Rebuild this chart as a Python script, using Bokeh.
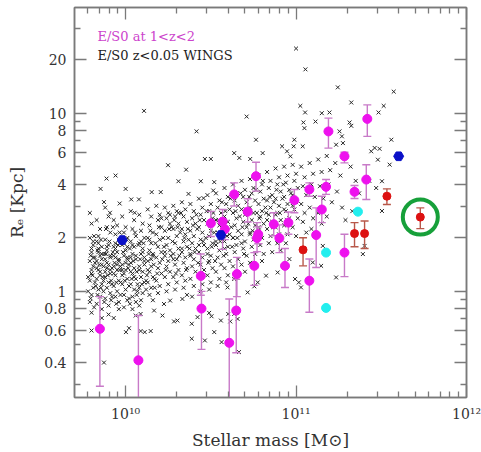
from bokeh.plotting import figure
from bokeh.models import Range1d, LogAxis, FixedTicker, Label
from bokeh.embed import file_html
from bokeh.resources import INLINE

# ---------------- data (log10 stellar mass, Re in kpc) ----------------
# high-z E/S0 (magenta) with error bars
hz_logM = [9.849, 10.075, 10.441, 10.445, 10.50, 10.569, 10.582, 10.637, 10.716, 10.608,
           10.649, 10.653, 10.765, 10.771, 10.778, 10.755, 10.869, 10.902, 10.935, 10.955,
           10.99, 11.078, 11.078, 11.118, 11.151, 11.176, 11.19, 11.284, 11.284, 11.343,
           11.412, 11.418]
hz_re = [0.616, 0.41, 1.22, 0.80, 2.41, 2.46, 2.23, 3.50, 2.80, 0.514,
         0.78, 1.25, 4.43, 1.99, 2.09, 1.39, 2.38, 1.99, 1.39, 2.43,
         3.25, 1.147, 3.73, 2.07, 2.88, 3.86, 7.90, 5.73, 1.65, 3.62,
         4.24, 9.29]
hz_hi = [0.934, 0.731, 1.62, 1.0, 2.81, 2.88, 2.50, 4.06, 3.31, 0.906,
         1.17, 1.55, 5.30, 2.43, 2.30, 1.65, 2.76, 2.36, 1.74, 2.79,
         3.73, 1.52, 4.06, 2.94, 3.42, 4.24, 9.38, 6.03, 2.09, 3.93,
         5.14, 11.13]
hz_lo = [0.293, 0.2, 0.95, 0.472, 2.03, 1.72, 1.95, 3.01, 2.45, 0.2,
         0.452, 0.934, 3.65, 1.67, 1.85, 1.08, 2.05, 1.65, 1.05, 2.09,
         2.76, 0.763, 3.42, 1.36, 2.43, 3.50, 6.37, 5.26, 1.21, 3.32,
         3.28, 7.41]

# red points with error bars
red_logM = [11.041, 11.343, 11.402, 11.533, 11.729]
red_re = [1.71, 2.11, 2.11, 3.42, 2.61]
red_hi = [2.00, 2.43, 2.48, 3.76, 2.94]
red_lo = [1.39, 1.78, 1.74, 3.07, 2.25]
highlight_index = 4  # the circled point

# cyan points
cy_logM = [11.363, 11.176, 11.176]
cy_re = [2.80, 1.65, 0.807]

# blue pentagons
bl_logM = [9.98, 10.559, 11.602]
bl_re = [1.94, 2.07, 5.73]

# local WINGS E/S0 (crosses): (log10 M, log10 Re)
wings_points = [
    (9.79, 0.44), (9.80, 0.38), (9.79, 0.30), (9.81, 0.26), (9.80, 0.22), (9.79, 0.17), (9.81, 0.14),
    (9.80, 0.10), (9.79, 0.06), (9.81, 0.02), (9.80, -0.02), (9.79, -0.06), (9.81, 0.19), (9.80, 0.12),
    (9.80, -0.12), (9.80, -0.22), (9.78, 0.08), (9.82, 0.16), (9.80, 0.24), (9.78, 0.00), (9.82, 0.05),
    (9.81, 0.28),
    (9.83, 0.40), (9.85, 0.35), (9.84, 0.31), (9.83, 0.28), (9.86, 0.25), (9.84, 0.22), (9.85, 0.20),
    (9.83, 0.17), (9.86, 0.15), (9.84, 0.12), (9.85, 0.09), (9.83, 0.07), (9.86, 0.04), (9.84, 0.01),
    (9.85, -0.03), (9.83, -0.07), (9.86, 0.18), (9.85, 0.11), (9.84, 0.24), (9.86, -0.10), (9.853, 0.575),
    (9.86, -0.15), (9.87, 0.06), (9.83, 0.13), (9.86, 0.21), (9.84, 0.27), (9.87, 0.00), (9.82, 0.19),
    (9.88, 0.47), (9.90, 0.42), (9.89, 0.36), (9.91, 0.33), (9.88, 0.29), (9.90, 0.26), (9.89, 0.23),
    (9.91, 0.20), (9.88, 0.18), (9.90, 0.15), (9.89, 0.13), (9.91, 0.10), (9.88, 0.08), (9.90, 0.05),
    (9.89, 0.02), (9.91, -0.01), (9.88, -0.04), (9.90, -0.08), (9.89, 0.16), (9.91, 0.12), (9.90, -0.13),
    (9.888, 0.633), (9.873, 0.501), (9.873, -0.40), (9.908, 0.441), (9.92, 0.04), (9.88, 0.11),
    (9.91, 0.19), (9.89, 0.25), (9.92, -0.03), (9.87, 0.14),
    (9.93, 0.40), (9.95, 0.37), (9.94, 0.32), (9.96, 0.29), (9.93, 0.25), (9.95, 0.22), (9.94, 0.19),
    (9.96, 0.17), (9.93, 0.14), (9.95, 0.12), (9.94, 0.09), (9.96, 0.06), (9.93, 0.03), (9.95, 0.00),
    (9.94, -0.03), (9.96, -0.06), (9.93, 0.20), (9.95, 0.15), (9.94, 0.27), (9.96, -0.10), (9.93, -0.15),
    (9.941, 0.65), (9.965, 0.493), (9.97, 0.05), (9.93, 0.10), (9.96, 0.18), (9.94, 0.24), (9.97, -0.02),
    (9.92, 0.13),
    (9.98, 0.42), (10.00, 0.36), (9.99, 0.33), (10.01, 0.30), (9.98, 0.26), (10.00, 0.23), (9.99, 0.20),
    (10.01, 0.18), (9.98, 0.15), (10.00, 0.12), (9.99, 0.10), (10.01, 0.07), (9.98, 0.04), (10.00, 0.01),
    (9.99, -0.02), (10.01, -0.05), (9.98, 0.09), (10.00, 0.16), (9.99, -0.09), (10.01, 0.25),
    (10.00, 0.575), (10.002, -0.229), (10.02, -0.207), (10.02, 0.03), (9.98, 0.12), (10.01, 0.19),
    (9.99, 0.27), (10.02, -0.04), (9.97, 0.14),
    (10.03, 0.45), (10.05, 0.40), (10.04, 0.35), (10.06, 0.31), (10.03, 0.28), (10.05, 0.25), (10.04, 0.21),
    (10.06, 0.18), (10.03, 0.16), (10.05, 0.13), (10.04, 0.10), (10.06, 0.07), (10.03, 0.04), (10.05, 0.01),
    (10.04, -0.03), (10.06, -0.06), (10.03, 0.19), (10.05, 0.08), (10.04, -0.10), (10.033, 0.516),
    (10.053, 0.441), (10.078, 0.516), (10.059, -0.136), (10.07, 0.04), (10.03, 0.11), (10.06, 0.20),
    (10.04, 0.26), (10.07, 0.00), (10.02, 0.15),
    (10.08, 0.43), (10.10, 0.38), (10.09, 0.34), (10.11, 0.30), (10.08, 0.27), (10.10, 0.24), (10.09, 0.21),
    (10.11, 0.17), (10.08, 0.14), (10.10, 0.11), (10.09, 0.08), (10.11, 0.05), (10.08, 0.02), (10.10, -0.01),
    (10.09, -0.05), (10.11, 0.15), (10.10, 0.22), (10.08, -0.08), (10.108, 1.013), (10.088, -0.127),
    (10.088, -0.223), (10.112, -0.229), (10.12, 0.06), (10.08, 0.12), (10.11, 0.19), (10.09, 0.28),
    (10.12, 0.01),
    (10.13, 0.46), (10.15, 0.42), (10.14, 0.37), (10.16, 0.33), (10.13, 0.30), (10.15, 0.27), (10.14, 0.23),
    (10.16, 0.20), (10.13, 0.17), (10.15, 0.14), (10.14, 0.11), (10.16, 0.08), (10.13, 0.05), (10.15, 0.02),
    (10.14, -0.02), (10.16, -0.05), (10.15, 0.18), (10.153, 0.557), (10.147, -0.223), (10.167, -0.108),
    (10.17, 0.07), (10.13, 0.12), (10.16, 0.21), (10.14, 0.29), (10.17, 0.02),
    (10.18, 0.48), (10.20, 0.43), (10.19, 0.40), (10.21, 0.36), (10.18, 0.32), (10.20, 0.29), (10.19, 0.25),
    (10.21, 0.22), (10.18, 0.19), (10.20, 0.16), (10.19, 0.13), (10.21, 0.10), (10.18, 0.06), (10.20, 0.03),
    (10.19, -0.01), (10.21, 0.41), (10.206, 0.557), (10.216, -0.136), (10.225, -0.071),
    (10.23, 0.47), (10.25, 0.44), (10.24, 0.41), (10.26, 0.38), (10.23, 0.34), (10.25, 0.30), (10.24, 0.26),
    (10.26, 0.23), (10.23, 0.20), (10.25, 0.17), (10.24, 0.14), (10.26, 0.11), (10.23, 0.08), (10.25, 0.04),
    (10.24, 0.00), (10.26, 0.43), (10.249, 0.708), (10.261, -0.052), (10.22, 0.30), (10.23, 0.22),
    (10.28, 0.48), (10.30, 0.45), (10.29, 0.42), (10.31, 0.38), (10.28, 0.35), (10.30, 0.31), (10.29, 0.27),
    (10.31, 0.24), (10.28, 0.21), (10.30, 0.18), (10.29, 0.15), (10.31, 0.12), (10.28, 0.08), (10.30, 0.05),
    (10.29, 0.01), (10.31, 0.44), (10.31, 0.618), (10.284, -0.169), (10.304, -0.164), (10.27, 0.36),
    (10.28, 0.18),
    (10.33, 0.50), (10.35, 0.46), (10.34, 0.42), (10.36, 0.39), (10.33, 0.35), (10.35, 0.32), (10.34, 0.28),
    (10.36, 0.25), (10.33, 0.22), (10.35, 0.19), (10.34, 0.16), (10.36, 0.13), (10.33, 0.09), (10.35, 0.06),
    (10.34, 0.02), (10.36, -0.02), (10.355, 0.683), (10.369, 0.547), (10.333, -0.043), (10.32, 0.33),
    (10.33, 0.24),
    (10.38, 0.49), (10.40, 0.45), (10.39, 0.41), (10.41, 0.38), (10.38, 0.34), (10.40, 0.31), (10.39, 0.27),
    (10.41, 0.24), (10.38, 0.21), (10.40, 0.18), (10.39, 0.14), (10.41, 0.11), (10.38, 0.07), (10.40, 0.03),
    (10.39, -0.03), (10.416, 0.898), (10.388, -0.182), (10.388, -0.266), (10.422, -0.145), (10.37, 0.29),
    (10.38, 0.20),
    (10.43, 0.52), (10.45, 0.47), (10.44, 0.43), (10.46, 0.40), (10.43, 0.36), (10.45, 0.33), (10.44, 0.29),
    (10.46, 0.26), (10.43, 0.22), (10.45, 0.19), (10.44, 0.15), (10.46, 0.12), (10.43, 0.08), (10.45, 0.04),
    (10.44, 0.00), (10.441, 0.618), (10.465, 0.743), (10.457, 0.523), (10.465, -0.276), (10.42, 0.35),
    (10.43, 0.26),
    (10.48, 0.54), (10.50, 0.49), (10.49, 0.45), (10.51, 0.41), (10.48, 0.38), (10.50, 0.34), (10.49, 0.31),
    (10.51, 0.27), (10.48, 0.24), (10.50, 0.20), (10.49, 0.17), (10.51, 0.13), (10.48, 0.09), (10.50, 0.05),
    (10.49, 0.01), (10.50, 0.743), (10.514, 0.566), (10.52, 0.613), (10.49, -0.121), (10.504, -0.14),
    (10.52, -0.229), (10.47, 0.30), (10.48, 0.21),
    (10.53, 0.55), (10.55, 0.51), (10.54, 0.47), (10.56, 0.44), (10.53, 0.40), (10.55, 0.37), (10.54, 0.33),
    (10.56, 0.30), (10.53, 0.26), (10.55, 0.23), (10.54, 0.19), (10.56, 0.15), (10.53, 0.11), (10.55, 0.07),
    (10.54, 0.03), (10.559, -0.164), (10.563, -0.285), (10.52, 0.33), (10.53, 0.28),
    (10.58, 0.58), (10.60, 0.53), (10.59, 0.49), (10.61, 0.46), (10.58, 0.42), (10.60, 0.39), (10.59, 0.35),
    (10.61, 0.32), (10.58, 0.28), (10.60, 0.25), (10.59, 0.21), (10.61, 0.17), (10.58, 0.13), (10.60, 0.09),
    (10.59, 0.05), (10.598, 0.022), (10.602, -0.127), (10.614, -0.169), (10.57, 0.40), (10.58, 0.24),
    (10.63, 0.60), (10.65, 0.55), (10.64, 0.51), (10.66, 0.48), (10.63, 0.44), (10.65, 0.41), (10.64, 0.37),
    (10.66, 0.34), (10.63, 0.30), (10.65, 0.26), (10.64, 0.22), (10.66, 0.18), (10.63, 0.14), (10.65, 0.10),
    (10.637, 0.776), (10.667, 0.749), (10.637, 0.069), (10.637, -0.127), (10.657, -0.155), (10.665, -0.341),
    (10.62, 0.36), (10.63, 0.30),
    (10.68, 0.62), (10.70, 0.57), (10.69, 0.53), (10.71, 0.50), (10.68, 0.46), (10.70, 0.43), (10.69, 0.39),
    (10.71, 0.36), (10.68, 0.32), (10.70, 0.28), (10.69, 0.24), (10.71, 0.20), (10.68, 0.15), (10.70, 0.11),
    (10.71, 0.981), (10.716, -0.006), (10.67, 0.42), (10.68, 0.27),
    (10.73, 0.63), (10.75, 0.58), (10.74, 0.55), (10.76, 0.51), (10.73, 0.47), (10.75, 0.44), (10.74, 0.40),
    (10.76, 0.37), (10.73, 0.33), (10.75, 0.29), (10.74, 0.25), (10.76, 0.21), (10.73, 0.16), (10.731, 0.743),
    (10.765, 0.851), (10.755, 0.028), (10.775, 0.05), (10.72, 0.38), (10.73, 0.32),
    (10.78, 0.65), (10.80, 0.60), (10.79, 0.56), (10.81, 0.52), (10.78, 0.49), (10.80, 0.45), (10.79, 0.42),
    (10.81, 0.38), (10.78, 0.34), (10.80, 0.30), (10.79, 0.26), (10.81, 0.21), (10.80, 0.17), (10.804, 0.776),
    (10.824, 0.088), (10.77, 0.44), (10.78, 0.36),
    (10.83, 0.67), (10.85, 0.62), (10.84, 0.58), (10.86, 0.54), (10.83, 0.51), (10.85, 0.47), (10.84, 0.43),
    (10.86, 0.39), (10.83, 0.35), (10.85, 0.31), (10.84, 0.27), (10.86, 0.22), (10.82, 0.47), (10.83, 0.40),
    (10.88, 0.69), (10.90, 0.64), (10.89, 0.60), (10.91, 0.56), (10.88, 0.52), (10.90, 0.48), (10.89, 0.44),
    (10.91, 0.40), (10.88, 0.36), (10.90, 0.32), (10.89, 0.27), (10.91, 0.23), (10.918, 0.814), (10.892, 0.106),
    (10.87, 0.50), (10.88, 0.43),
    (10.93, 0.70), (10.95, 0.65), (10.94, 0.61), (10.96, 0.57), (10.93, 0.53), (10.95, 0.49), (10.94, 0.45),
    (10.96, 0.41), (10.93, 0.37), (10.95, 0.32), (10.94, 0.27), (10.947, 0.786), (10.967, 0.758),
    (10.961, 0.181), (10.92, 0.52), (10.93, 0.46),
    (10.98, 0.71), (11.00, 0.66), (10.99, 0.62), (11.01, 0.58), (10.98, 0.54), (11.00, 0.50), (10.99, 0.46),
    (11.01, 0.41), (10.98, 0.36), (11.00, 0.31), (11.00, 1.363), (10.99, 0.851), (10.986, 0.814),
    (10.994, 0.069), (11.016, 0.05), (11.025, 1.041), (10.97, 0.55), (10.98, 0.48),
    (11.03, 0.70), (11.05, 0.64), (11.04, 0.59), (11.06, 0.54), (11.03, 0.49), (11.05, 0.44), (11.04, 0.39),
    (11.06, 0.33), (11.055, 1.246), (11.053, 1.004), (11.043, 0.948), (11.049, 0.916), (11.039, 0.814),
    (11.029, 0.022),
    (11.08, 0.72), (11.10, 0.66), (11.09, 0.60), (11.11, 0.53), (11.08, 0.47), (11.10, 0.41), (11.09, 0.35),
    (11.114, 0.953), (11.098, 0.162),
    (11.13, 0.74), (11.15, 0.67), (11.14, 0.59), (11.16, 0.52), (11.13, 0.44), (11.15, 0.38), (11.151, 1.0),
    (11.147, 0.143), (11.157, 0.255),
    (11.18, 0.76), (11.20, 0.68), (11.19, 0.60), (11.21, 0.50), (11.18, 0.42), (11.196, 1.004),
    (11.23, 0.72), (11.26, 0.65), (11.24, 0.56), (11.27, 0.47), (11.29, 0.40), (11.245, 1.145),
    (11.255, 0.898), (11.269, 0.870), (11.235, 0.823), (11.275, 0.832), (11.235, 0.078),
    (11.32, 0.70), (11.35, 0.62), (11.37, 0.55), (11.33, 0.45), (11.324, 1.06), (11.314, 0.948),
    (11.324, 0.929), (11.402, 0.255), (11.392, 0.209),
    (11.43, 0.62), (11.47, 0.58), (11.514, 1.041), (11.484, 1.004), (11.573, 1.121), (11.559, 0.851),
    (11.461, 0.805), (11.441, 0.786), (11.49, 0.80), (11.504, 0.451), (11.504, 0.618), (11.549, 0.711),
    (11.48, 0.739),
    # denser core
    (9.795, 0.20), (9.805, 0.09), (9.815, 0.31), (9.825, 0.03), (9.835, 0.23), (9.845, 0.15), (9.855, 0.29),
    (9.865, 0.08), (9.875, 0.21), (9.795, -0.04), (9.815, -0.09), (9.835, -0.02), (9.855, 0.02),
    (9.875, -0.06),
    (9.885, 0.21), (9.895, 0.09), (9.905, 0.28), (9.915, 0.06), (9.925, 0.22), (9.935, 0.16), (9.945, 0.05),
    (9.955, 0.26), (9.965, 0.12), (9.885, 0.35), (9.915, -0.05), (9.945, -0.07), (9.965, 0.33),
    (9.925, 0.36),
    (9.985, 0.22), (9.995, 0.06), (10.005, 0.29), (10.015, 0.13), (10.025, 0.24), (10.035, 0.07),
    (10.045, 0.17), (10.055, 0.33), (10.065, 0.11), (10.075, 0.26), (10.085, 0.18), (10.095, 0.04),
    (10.025, -0.07), (10.065, -0.02),
    (10.105, 0.27), (10.125, 0.09), (10.135, 0.21), (10.145, 0.34), (10.165, 0.15), (10.175, 0.27),
    (10.185, 0.10), (10.195, 0.36), (10.215, 0.18), (10.225, 0.25), (10.235, 0.12), (10.255, 0.35),
    (10.265, 0.20), (10.275, 0.28), (10.285, 0.40), (10.295, 0.10),
    (10.305, 0.36), (10.315, 0.20), (10.325, 0.44), (10.345, 0.30), (10.355, 0.12), (10.365, 0.35),
    (10.375, 0.24), (10.395, 0.37), (10.405, 0.22), (10.415, 0.43), (10.425, 0.16), (10.435, 0.40),
    (10.455, 0.28), (10.475, 0.45), (10.485, 0.16), (10.495, 0.37),
    (10.505, 0.25), (10.515, 0.44), (10.525, 0.17), (10.545, 0.40), (10.555, 0.28), (10.565, 0.50),
    (10.575, 0.20), (10.585, 0.45), (10.595, 0.31), (10.615, 0.52), (10.625, 0.25), (10.645, 0.45),
    (10.655, 0.30), (10.675, 0.55), (10.685, 0.36), (10.695, 0.21),
    (10.705, 0.46), (10.725, 0.53), (10.745, 0.34), (10.765, 0.57), (10.785, 0.41), (10.805, 0.62),
    (10.825, 0.44), (10.845, 0.53), (10.865, 0.36), (10.885, 0.57), (10.905, 0.44), (10.925, 0.60),
    (10.945, 0.40),
]

x_major = [1e10, 1e11, 1e12]
x_labels = ["10\u00b9\u2070", "10\u00b9\u00b9", "10\u00b9\u00b2"]
x_minor = [6e9, 7e9, 8e9, 9e9, 2e10, 3e10, 4e10, 5e10, 6e10, 7e10, 8e10, 9e10,
           2e11, 3e11, 4e11, 5e11, 6e11, 7e11, 8e11, 9e11]
y_major = [0.4, 0.6, 0.8, 1, 2, 4, 6, 8, 10, 20]
y_labels = ["0.4", "0.6", "0.8", "1", "2", "4", "6", "8", "10", "20"]
y_minor = [0.3, 0.5, 0.7, 0.9, 3, 5, 7, 9, 30]

legend_texts = ["E/S0 at 1<z<2", "E/S0 z<0.05 WINGS"]

# ---------------- figure ----------------
FONT = "DejaVu Serif"
GRAY = "#7a7a7a"

p = figure(width=481, height=452, x_axis_type="log", y_axis_type="log",
           x_range=Range1d(10 ** 9.7, 10 ** 12.0), y_range=Range1d(0.2535, 39.2),
           output_backend="svg", toolbar_location=None,
           min_border_left=74, min_border_right=15, min_border_top=7, min_border_bottom=53)
p.xgrid.visible = False
p.ygrid.visible = False
p.outline_line_color = GRAY
p.outline_line_width = 1.5
p.background_fill_color = "white"
p.border_fill_color = "white"

def style_axis(ax, ticks, minor, labels, show_labels):
    ax.ticker = FixedTicker(ticks=ticks, minor_ticks=minor)
    ax.major_tick_in = 12
    ax.major_tick_out = 0
    ax.minor_tick_in = 6
    ax.minor_tick_out = 0
    ax.axis_line_color = GRAY
    ax.axis_line_width = 1.5
    ax.major_tick_line_color = GRAY
    ax.major_tick_line_width = 1.3
    ax.minor_tick_line_color = GRAY
    ax.minor_tick_line_width = 1.3
    ax.major_label_overrides = {t: l for t, l in zip(ticks, labels)}
    if show_labels:
        ax.major_label_text_font = FONT
        ax.major_label_text_font_size = "14px"
        ax.major_label_text_color = "#333333"
    else:
        ax.major_label_text_font_size = "1px"
        ax.major_label_text_alpha = 0
        ax.major_label_standoff = 0

style_axis(p.xaxis[0], x_major, x_minor, x_labels, True)
style_axis(p.yaxis[0], y_major, y_minor, y_labels, True)
p.xaxis.major_label_standoff = 8
p.yaxis.major_label_standoff = 8
p.xaxis.axis_label = "Stellar mass [M\u2299]"
p.yaxis.axis_label = "R\u2091 [Kpc]"
for ax in (p.xaxis[0], p.yaxis[0]):
    ax.axis_label_text_font = FONT
    ax.axis_label_text_font_size = "17px"
    ax.axis_label_text_font_style = "normal"
    ax.axis_label_text_color = "#333333"
p.xaxis.axis_label_standoff = 5
p.yaxis.axis_label_standoff = 14

top = LogAxis()
style_axis(top, x_major, x_minor, x_labels, False)
p.add_layout(top, "above")
right = LogAxis()
style_axis(right, y_major, y_minor, y_labels, False)
p.add_layout(right, "right")

# crosses
w_m = [10 ** a for a, b in wings_points]
w_r = [10 ** b for a, b in wings_points]
p.scatter(w_m, w_r, marker="x", size=5.5, line_color="#262626", line_width=1.0)

# magenta error bars
hz_m = [10 ** a for a in hz_logM]
EB_M = "#c87ac8"
p.segment(hz_m, hz_lo, hz_m, hz_hi, line_color=EB_M, line_width=1.4)
p.scatter(hz_m, hz_hi, marker="dash", size=8, line_color=EB_M, line_width=1.4)
p.scatter(hz_m, hz_lo, marker="dash", size=8, line_color=EB_M, line_width=1.4)

# red error bars
red_m = [10 ** a for a in red_logM]
EB_R = "#b8584a"
p.segment(red_m, red_lo, red_m, red_hi, line_color=EB_R, line_width=1.4)
p.scatter(red_m, red_hi, marker="dash", size=8, line_color=EB_R, line_width=1.4)
p.scatter(red_m, red_lo, marker="dash", size=8, line_color=EB_R, line_width=1.4)

# points
p.scatter(hz_m, hz_re, marker="circle", size=9, fill_color="#ee11ee", line_color="#ee11ee")
p.scatter(red_m, red_re, marker="circle", size=8, fill_color="#dd1111", line_color="#dd1111")
p.scatter([10 ** a for a in cy_logM], cy_re, marker="circle", size=9,
          fill_color="#22eeee", line_color="#22eeee")
p.scatter([10 ** a for a in bl_logM], bl_re, marker="hex", size=10,
          fill_color="#0a10c8", line_color="#0a10c8")

# green highlight ring
p.scatter([red_m[highlight_index]], [red_re[highlight_index]], marker="circle", size=35,
          fill_color=None, line_color="#17a03a", line_width=4)

# legend texts
p.add_layout(Label(x=23, y=361, x_units="screen", y_units="screen", text=legend_texts[0],
                   text_font=FONT, text_font_size="13px", text_color="#cc44cc",
                   text_baseline="middle"))
p.add_layout(Label(x=23, y=342, x_units="screen", y_units="screen", text=legend_texts[1],
                   text_font=FONT, text_font_size="13px", text_color="#222222",
                   text_baseline="middle"))

open("out.html", "w").write(file_html(p, INLINE))
